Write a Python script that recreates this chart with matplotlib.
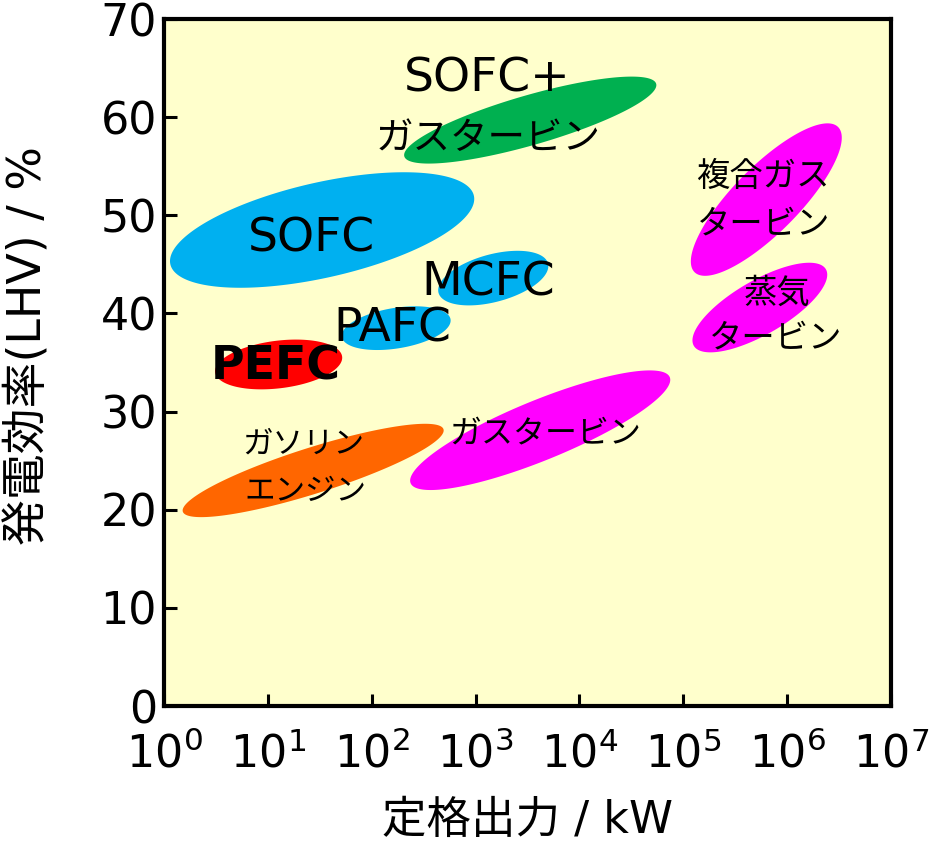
import numpy as np
import matplotlib
matplotlib.use('Agg')
import matplotlib.pyplot as plt

plt.rcParams['font.family'] = ['DejaVu Sans', 'Noto Sans CJK JP']
plt.rcParams['mathtext.fontset'] = 'dejavusans'

# power generation technologies: each region is an ellipse given by its centre,
# the right-hand end of its long axis (kW, %) and the ratio of short/long axis
names = ['SOFC+GT', 'SOFC', 'MCFC', 'PAFC', 'PEFC', 'ガソリンエンジン',
         'ガスタービン', '複合ガスタービン', '蒸気タービン']
center_kw = [3360, 33.3, 1480, 172, 12.7, 27.3, 4190, 6.30e5, 5.46e5]
center_eff = [59.7, 48.5, 43.6, 38.5, 34.8, 24.0, 28.1, 51.6, 40.6]
end_kw = [54800, 963, 4980, 574, 51.9, 491, 74100, 3.09e6, 2.36e6]
end_eff = [63.4, 52.0, 45.1, 39.4, 35.6, 28.2, 33.5, 59.0, 44.5]
axis_ratio = [0.19, 0.306, 0.42, 0.368, 0.372, 0.168, 0.214, 0.323, 0.353]
colors = ['#00B050', '#00B0F0', '#00B0F0', '#00B0F0', '#FF0000', '#FF6600',
          '#FF00FF', '#FF00FF', '#FF00FF']

# labels: text, x (kW), y (%), size, weight
labels = [
    ('SOFC+', 1294, 63.9, 34, 'normal'),
    ('ガスタービン', 1322, 57.8, 27, 'normal'),
    ('SOFC', 26.1, 47.6, 34, 'normal'),
    ('MCFC', 1322, 43.1, 34, 'normal'),
    ('PAFC', 157, 38.4, 34, 'normal'),
    ('PEFC', 12.0, 34.5, 33, 'bold'),
    ('ガソリン', 21.8, 26.7, 22, 'normal'),
    ('エンジン', 22.8, 21.9, 22, 'normal'),
    ('ガスタービン', 4690, 27.6, 23, 'normal'),
    ('複合ガス', 5.77e5, 54.0, 24, 'normal'),
    ('タービン', 5.9e5, 49.1, 24, 'normal'),
    ('蒸気', 8.05e5, 42.1, 24, 'normal'),
    ('タービン', 7.71e5, 37.5, 24, 'normal'),
]

decades = list(range(0, 8))
y_ticks = list(range(0, 80, 10))


def fill_ellipse(ax, cx, cy, ex, ey, ratio, color, n=300):
    # build the ellipse in display space so it looks round on the log axis
    tr = ax.transData
    c = tr.transform((cx, cy))
    d = tr.transform((ex, ey)) - c
    perp = np.array([-d[1], d[0]]) * ratio
    t = np.linspace(0, 2 * np.pi, n)
    pts = c + np.outer(np.cos(t), d) + np.outer(np.sin(t), perp)
    data = tr.inverted().transform(pts)
    ax.fill(data[:, 0], data[:, 1], color=color, lw=0, zorder=1)


fig = plt.figure(figsize=(9.37, 8.48), dpi=100)
ax = fig.add_axes([164 / 937, 142 / 848, 727 / 937, 687 / 848])
ax.set_facecolor('#FFFFCC')
ax.set_xscale('log')
ax.set_xlim(1, 1e7)
ax.set_ylim(0, 70)

for i in range(len(names)):
    fill_ellipse(ax, center_kw[i], center_eff[i], end_kw[i], end_eff[i],
                 axis_ratio[i], colors[i])

for text, x, y, size, weight in labels:
    ax.text(x, y, text, fontsize=size, fontweight=weight, ha='center',
            va='center', zorder=3)

ax.set_xticks([10 ** d for d in decades])
ax.set_xticklabels([f'$10^{{{d}}}$' for d in decades])
ax.xaxis.set_minor_locator(matplotlib.ticker.NullLocator())
ax.set_yticks(y_ticks)
ax.tick_params(direction='in', length=9, width=2.2, labelsize=32)
ax.tick_params(axis='x', pad=19)
ax.tick_params(axis='y', pad=5)
for s in ax.spines.values():
    s.set_linewidth(3)

ax.set_xlabel('定格出力 / kW', fontsize=32, labelpad=16)
ax.set_ylabel('発電効率(LHV) / %', fontsize=33)
ax.yaxis.set_label_coords(-0.155, 0.525)

fig.savefig('out.png', dpi=100)
